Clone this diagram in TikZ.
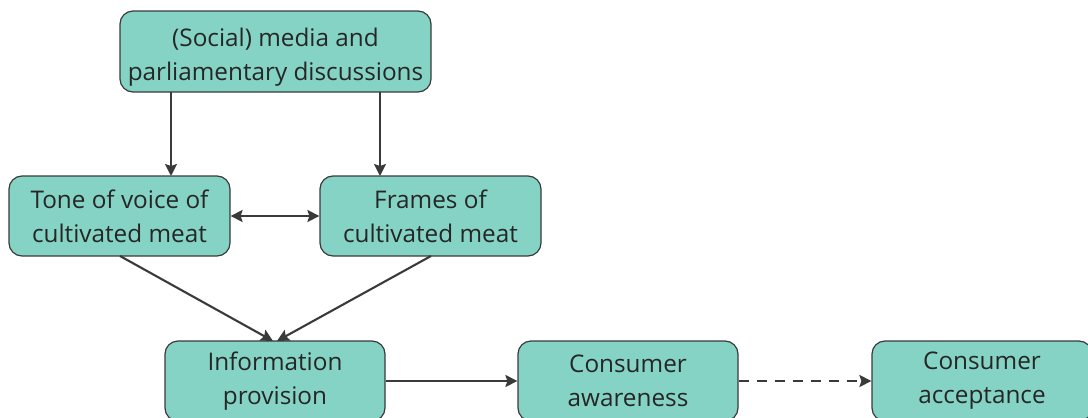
\documentclass[tikz,border=0pt]{standalone}
\usepackage{fontspec}
\setmainfont{Open Sans}
\usetikzlibrary{arrows.meta}
\definecolor{boxfill}{HTML}{84D3C4}
\definecolor{edgegray}{HTML}{3A3A3A}
\definecolor{textgray}{HTML}{262626}
\begin{document}
\begin{tikzpicture}[x=1pt,y=-1pt,
  box/.style={draw=edgegray,line width=1.2pt,fill=boxfill,rounded corners=13pt,
    text=textgray,align=center,inner sep=0pt,
    font=\fontsize{24.3}{34}\selectfont},
  link/.style={draw=edgegray,line width=2.1pt,-{Stealth[length=12pt,width=12pt,inset=2pt]}},
  both/.style={draw=edgegray,line width=2.1pt,{Stealth[length=12pt,width=12pt,inset=2pt]}-{Stealth[length=12pt,width=12pt,inset=2pt]}}
]
\useasboundingbox (0,0) rectangle (1088,418);
\clip (0,0) rectangle (1088,418);
% boxes
\node[box,minimum width=311pt,minimum height=81pt] (media) at (275.5,51.5)
  {\rule{0pt}{29pt}(Social) media and\\parliamentary discussions};
\node[box,minimum width=221pt,minimum height=80pt] (tone) at (119.5,216)
  {Tone of voice of\\cultivated meat};
\node[box,minimum width=221pt,minimum height=80pt] (frames) at (430.5,216)
  {Frames of\\cultivated meat};
\node[box,minimum width=220pt,minimum height=80pt] (info) at (275,381)
  {Information\\provision};
\node[box,minimum width=220pt,minimum height=80pt] (aware) at (628,381)
  {Consumer\\awareness};
\node[box,minimum width=220pt,minimum height=80pt] (accept) at (982,381)
  {Consumer\\acceptance};
% points on the box outlines where the connectors meet them
\coordinate (m1) at (171,92);
\coordinate (m2) at (380,92);
\coordinate (t1) at (171,176);
\coordinate (f1) at (380,176);
\coordinate (ts) at (120,256);
\coordinate (fs) at (431,256);
\coordinate (i1) at (273,341);
\coordinate (i2) at (277,341);
% connectors
\draw[link] (m1) -- (t1);
\draw[link] (m2) -- (f1);
\draw[both] (tone.east) -- (frames.west);
\draw[link] (ts) -- (i1);
\draw[link] (fs) -- (i2);
\draw[link] (info.east) -- (aware.west);
\draw[link,dash pattern=on 10pt off 8pt] (aware.east) -- (accept.west);
\end{tikzpicture}
\end{document}
